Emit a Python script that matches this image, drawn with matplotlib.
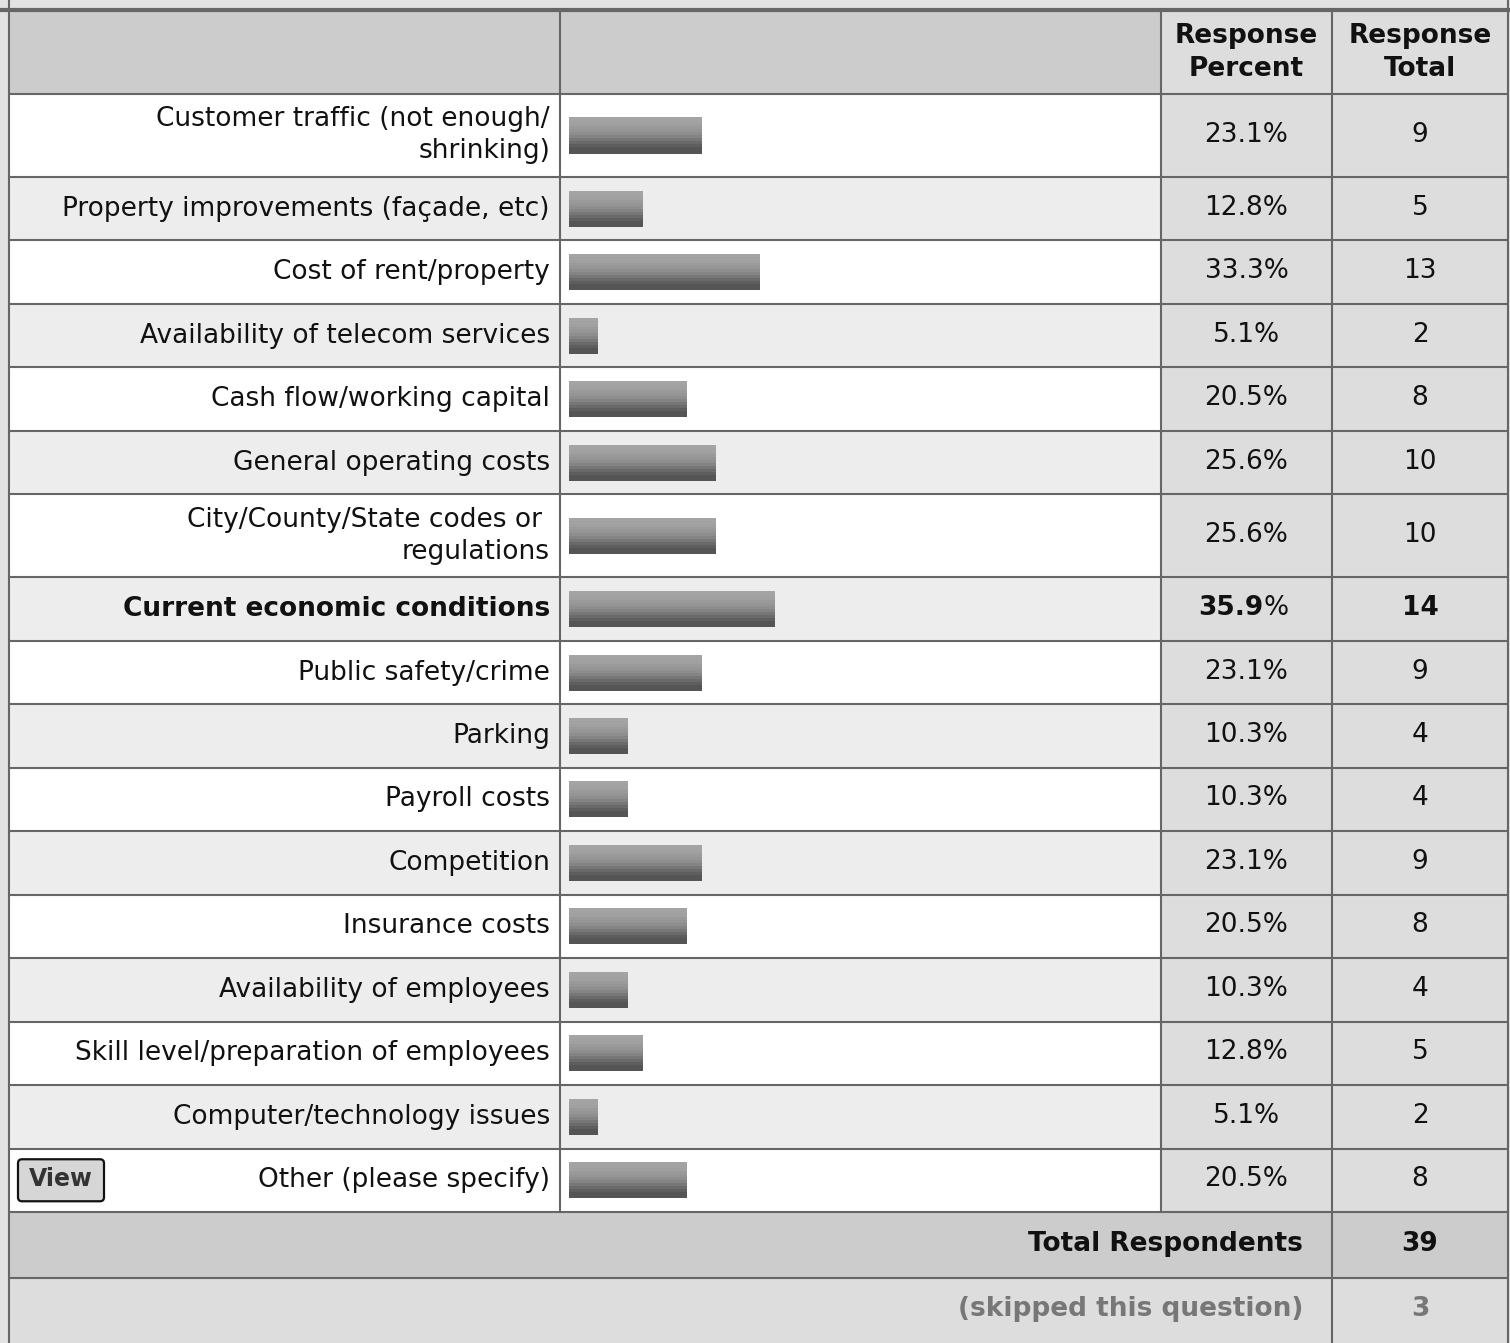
import matplotlib

matplotlib.use("Agg")
import matplotlib.pyplot as plt
from matplotlib.patches import FancyBboxPatch, Rectangle

labels = [
    "Customer traffic (not enough/\nshrinking)",
    "Property improvements (façade, etc)",
    "Cost of rent/property",
    "Availability of telecom services",
    "Cash flow/working capital",
    "General operating costs",
    "City/County/State codes or \nregulations",
    "Current economic conditions",
    "Public safety/crime",
    "Parking",
    "Payroll costs",
    "Competition",
    "Insurance costs",
    "Availability of employees",
    "Skill level/preparation of employees",
    "Computer/technology issues",
    "Other (please specify)",
]
percents = [23.1, 12.8, 33.3, 5.1, 20.5, 25.6, 25.6, 35.9, 23.1,
            10.3, 10.3, 23.1, 20.5, 10.3, 12.8, 5.1, 20.5]
totals = [9, 5, 13, 2, 8, 10, 10, 14, 9, 4, 4, 9, 8, 4, 5, 2, 8]
bold_label = "Current economic conditions"
header_cols = ["Response\nPercent", "Response\nTotal"]
total_respondents = 39
skipped = 3

W, H = 1510, 1343
# column edges (pixels)
X0, XL, XB, XP, XR = 9, 560, 1161, 1332, 1508
BAR_X0 = 569
PX_PER_PCT = 5.75
LINE = "#666666"
LW = 1.5
FS = 19
TXT = "#111111"

fig = plt.figure(figsize=(W / 100, H / 100), dpi=100)
fig.patch.set_facecolor("#e2e2e2")
ax = fig.add_axes([0, 0, 1, 1])
ax.set_xlim(0, W)
ax.set_ylim(H, 0)
ax.axis("off")

# row layout
top = 11
head_bot = 94
bounds = [head_bot]
for lab in labels:
    bounds.append(bounds[-1] + (83 if "\n" in lab else (1118 - 166) / 15))
tot_bot = bounds[-1] + 66
skip_bot = H + 2
centers = [(a + b) / 2 for a, b in zip(bounds[:-1], bounds[1:])]

# cell fills
ax.add_patch(Rectangle((X0, top), XB - X0, head_bot - top, color="#cccccc", lw=0))
ax.add_patch(Rectangle((XB, top), XR - XB, head_bot - top, color="#dddddd", lw=0))
for i in range(len(labels)):
    y0, y1 = bounds[i], bounds[i + 1]
    ax.add_patch(Rectangle((X0, y0), XB - X0, y1 - y0,
                           color="#ffffff" if i % 2 == 0 else "#ededed", lw=0))
    ax.add_patch(Rectangle((XB, y0), XR - XB, y1 - y0, color="#dddddd", lw=0))
ax.add_patch(Rectangle((X0, bounds[-1]), XR - X0, tot_bot - bounds[-1], color="#cccccc", lw=0))
ax.add_patch(Rectangle((X0, tot_bot), XR - X0, skip_bot - tot_bot, color="#dddddd", lw=0))

# grid lines
ax.plot([0, W], [9.5, 9.5], color=LINE, lw=3, solid_capstyle="butt")
for y in bounds + [tot_bot]:
    ax.plot([X0, XR], [y, y], color=LINE, lw=LW, solid_capstyle="butt")
for x in [X0, XR]:
    ax.plot([x, x], [0, H], color=LINE, lw=LW)
for x in [XL, XB]:
    ax.plot([x, x], [top, bounds[-1]], color=LINE, lw=LW)
ax.plot([XP, XP], [top, H], color=LINE, lw=LW)

# header text
for x, txt in zip([(XB + XP) / 2, (XP + XR) / 2], header_cols):
    ax.text(x, (top + head_bot) / 2, txt, ha="center", va="center",
            fontsize=FS, fontweight="bold", linespacing=1.35, color=TXT)

# labels and values
for i, (lab, p, n) in enumerate(zip(labels, percents, totals)):
    bold = lab == bold_label
    fw = "bold" if bold else "normal"
    ax.text(550, centers[i], lab, ha="right", va="center", fontsize=FS,
            fontweight=fw, linespacing=1.3, color=TXT)
    pc = (XB + XP) / 2
    if bold:
        ax.text(pc + 17, centers[i] - 1, f"{p:.1f}", ha="right", va="center",
                fontsize=FS, fontweight="bold", color=TXT)
        ax.text(pc + 17, centers[i] - 1, "%", ha="left", va="center",
                fontsize=FS, color=TXT)
    else:
        ax.text(pc, centers[i] - 1, f"{p:.1f}%", ha="center", va="center",
                fontsize=FS, color=TXT)
    ax.text((XP + XR) / 2, centers[i] - 1, str(n), ha="center", va="center",
            fontsize=FS, fontweight=fw, color=TXT)

# View button on the last row
yc = centers[-1]
ax.add_patch(FancyBboxPatch((18, yc - 21), 86, 42, boxstyle="round,pad=0,rounding_size=4",
                            fc="#d6d6d6", ec="#111111", lw=1.6))
ax.text(61, yc - 1, "View", ha="center", va="center", fontsize=17,
        fontweight="bold", color="#333333")

# summary rows
ax.text(1303, (bounds[-1] + tot_bot) / 2 - 1, "Total Respondents", ha="right",
        va="center", fontsize=FS, fontweight="bold", color=TXT)
ax.text((XP + XR) / 2, (bounds[-1] + tot_bot) / 2 - 1, str(total_respondents),
        ha="center", va="center", fontsize=FS, fontweight="bold", color=TXT)
ax.text(1303, (tot_bot + H) / 2 - 1, "(skipped this question)", ha="right",
        va="center", fontsize=FS, fontweight="bold", color="#777777")
ax.text((XP + XR) / 2, (tot_bot + H) / 2 - 1, str(skipped), ha="center",
        va="center", fontsize=FS, fontweight="bold", color="#777777")

# bars with striped gradient
bax = fig.add_axes([BAR_X0 / W, 0, (XB - BAR_X0) / W, 1])
bax.set_xlim(0, (XB - BAR_X0) / PX_PER_PCT)
bax.set_ylim(H, 0)
bax.axis("off")
stripes = ["#a4a4a4", "#a2a2a2", "#a0a0a0", "#9a9a9a", "#959595", "#8e8e8e",
           "#848484", "#777777", "#6a6a6a", "#5e5e5e", "#555555", "#555555"]
bh = 36
sh = bh / len(stripes)
for j, c in enumerate(stripes):
    ys = [cy - bh / 2 + (j + 0.5) * sh for cy in centers]
    bax.barh(ys, percents, height=sh * 1.02, left=0, color=c, lw=0)

fig.savefig("out.png", dpi=100, facecolor=fig.get_facecolor())
